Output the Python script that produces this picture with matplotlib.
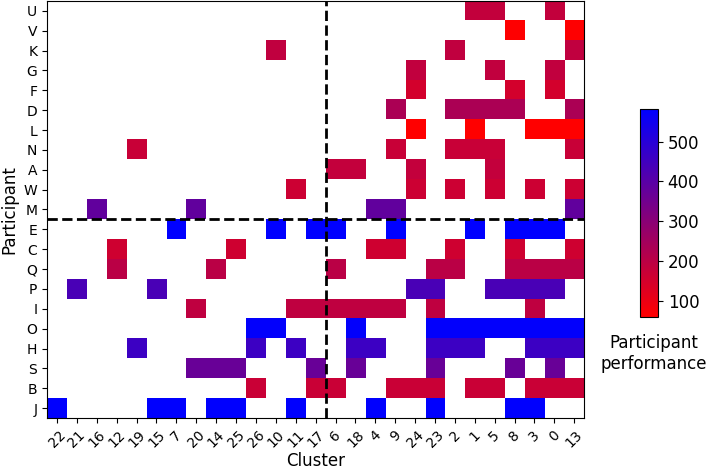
import numpy as np
import matplotlib
matplotlib.use('Agg')
import matplotlib.pyplot as plt
from matplotlib.colors import LinearSegmentedColormap

# Column order of clusters on the x axis
clusters = [22, 21, 16, 12, 19, 15, 7, 20, 14, 25, 26, 10, 11, 17,
            6, 18, 4, 9, 24, 23, 2, 1, 5, 8, 3, 0, 13]

# Participants top to bottom
participants = ['U', 'V', 'K', 'G', 'F', 'D', 'L', 'N', 'A', 'W', 'M',
                'E', 'C', 'Q', 'P', 'I', 'O', 'H', 'S', 'B', 'J']

# Performance of each participant
performance = [185, 62, 188, 186, 150, 232, 59, 172, 182, 165, 380,
               582, 160, 200, 432, 190, 575, 458, 368, 170, 578]

# Clusters each participant appears in
membership = {
    'U': [1, 5, 0],
    'V': [8, 13],
    'K': [10, 2, 13],
    'G': [24, 5, 0],
    'F': [24, 8, 0],
    'D': [9, 2, 1, 5, 8, 13],
    'L': [24, 1, 3, 0, 13],
    'N': [19, 9, 2, 1, 5, 13],
    'A': [6, 18, 24, 5],
    'W': [11, 24, 2, 5, 3, 13],
    'M': [16, 20, 4, 9, 13],
    'E': [7, 10, 17, 6, 9, 1, 8, 3, 0],
    'C': [12, 25, 4, 9, 2, 8, 13],
    'Q': [12, 14, 6, 23, 2, 8, 3, 0, 13],
    'P': [21, 15, 24, 23, 5, 8, 3, 0],
    'I': [20, 11, 17, 6, 18, 4, 9, 23, 3],
    'O': [26, 10, 18, 23, 2, 1, 5, 8, 3, 0, 13],
    'H': [19, 26, 11, 18, 4, 23, 2, 1, 3, 0, 13],
    'S': [20, 14, 25, 17, 18, 23, 8, 0],
    'B': [26, 17, 6, 9, 24, 23, 1, 5, 3, 0, 13],
    'J': [22, 15, 7, 14, 25, 11, 4, 23, 8, 3],
}

# Build the matrix (NaN = participant not in cluster)
grid = np.full((len(participants), len(clusters)), np.nan)
for i, p in enumerate(participants):
    for c in membership[p]:
        grid[i, clusters.index(c)] = performance[i]

cmap = LinearSegmentedColormap.from_list('red_blue', ['red', 'blue'])

fig = plt.figure(figsize=(7.09, 4.71), dpi=100)
ax = fig.add_axes([0.0663, 0.1125, 0.7577, 0.8855])
im = ax.imshow(grid, cmap=cmap, aspect='auto', interpolation='nearest')

ax.axvline(13.5, color='k', linestyle='--', linewidth=2)
ax.axhline(10.5, color='k', linestyle='--', linewidth=2)

ax.set_xticks(range(len(clusters)))
ax.set_xticklabels([str(c) for c in clusters], rotation=45, fontsize=10)
ax.set_yticks(range(len(participants)))
ax.set_yticklabels(participants, fontsize=10)
ax.set_xlabel('Cluster', fontsize=12, labelpad=1)
ax.set_ylabel('Participant', fontsize=12)

cax = fig.add_axes([0.9027, 0.327, 0.0254, 0.4416])
cbar = fig.colorbar(im, cax=cax)
cbar.set_ticks([100, 200, 300, 400, 500])
cbar.ax.tick_params(labelsize=12)
fig.text(0.922, 0.29, 'Participant\nperformance', ha='center', va='top', fontsize=12)

plt.savefig('out.png', dpi=100)
